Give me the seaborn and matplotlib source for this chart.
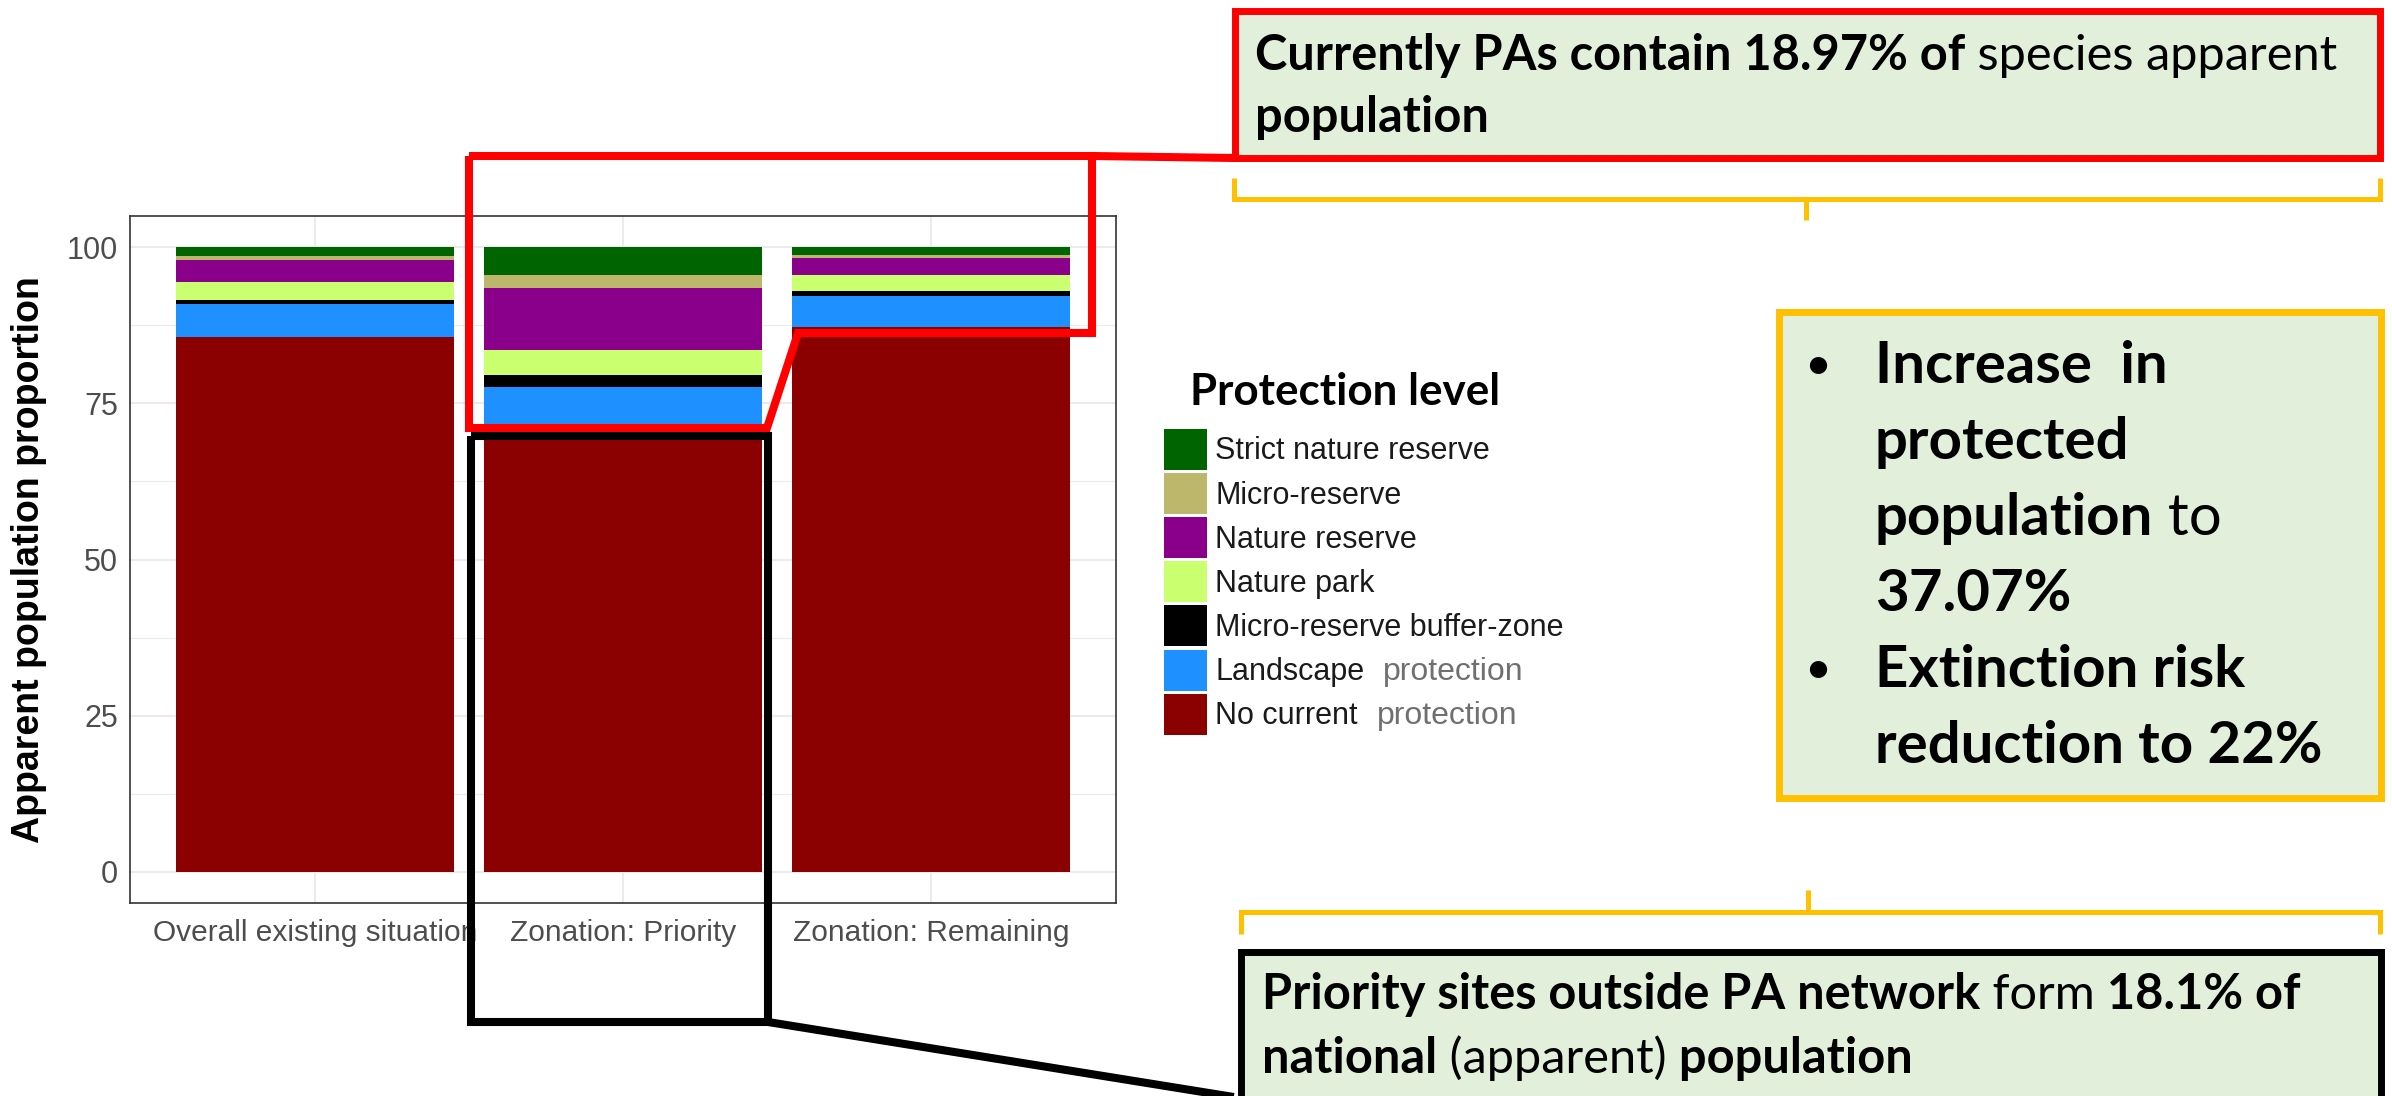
import matplotlib
matplotlib.use("Agg")
import matplotlib.pyplot as plt
import seaborn as sns
import pandas as pd
import numpy as np
from matplotlib.patches import Patch, Rectangle
from matplotlib.lines import Line2D

W, H = 2392, 1096  # output size in pixels (dpi 100)

# ---- data ----
scenarios = ["Overall existing situation", "Zonation: Priority", "Zonation: Remaining"]
levels = ["Strict nature reserve", "Micro-reserve", "Nature reserve", "Nature park",
          "Micro-reserve buffer-zone", "Landscape protection", "No current protection"]
level_colors = ["#006400", "#BDB76B", "#8B008B", "#CAFF70", "#000000", "#1E90FF", "#8B0000"]

strict_reserve = [1.4, 4.4, 1.2]
micro_reserve = [0.6, 2.2, 0.5]
nature_reserve = [3.6, 9.9, 2.7]
nature_park = [2.9, 3.9, 2.6]
buffer_zone = [0.6, 2.0, 0.8]
landscape = [5.2, 6.6, 5.0]
no_protection = [85.7, 71.0, 87.2]

y_ticks = [0, 25, 50, 75, 100]

# callout texts: (text, weight) runs per line
top_box_lines = [[("Currently PAs contain 18.97% of", "bold"), (" species apparent", "normal")],
                 [("population", "bold")]]
mid_box_lines = [[("Increase  in", "bold")], [("protected", "bold")],
                 [("population", "bold"), (" to", "normal")], [("37.07%", "bold")],
                 [("Extinction risk", "bold")], [("reduction to 22%", "bold")]]
mid_box_bullets = [0, 4]
bottom_box_lines = [[("Priority sites outside PA network", "bold"), (" form", "normal"), (" 18.1% of", "bold")],
                    [("national", "bold"), (" (apparent)", "normal"), (" population", "bold")]]

CALLOUT_FONT = "Lato"
AXIS_FONT = "Liberation Sans"
BOX_FILL = "#E2EFDA"
GOLD = "#FFC000"
RED = "#FF0000"


def fx(x):
    return x / W


def fy(y):
    return 1 - y / H


def runs_width(fig, runs, size, renderer):
    w = 0
    for txt, wt in runs:
        t = fig.text(0, 0, txt, fontsize=size, fontweight=wt, family=CALLOUT_FONT)
        w += t.get_window_extent(renderer).width
        t.remove()
    return w


def fit_size(fig, runs, target_w, renderer):
    base = 30
    return base * target_w / runs_width(fig, runs, base, renderer)


def draw_runs(fig, x, y, runs, size, renderer):
    cx = x
    for txt, wt in runs:
        t = fig.text(fx(cx), fy(y), txt, fontsize=size, fontweight=wt,
                     family=CALLOUT_FONT, va="baseline", ha="left", color="black")
        cx += t.get_window_extent(renderer).width


def fig_line(fig, pts, color, lw):
    xs = [fx(p[0]) for p in pts]
    ys = [fy(p[1]) for p in pts]
    fig.add_artist(Line2D(xs, ys, color=color, lw=lw, transform=fig.transFigure,
                          solid_joinstyle="miter", solid_capstyle="butt"))


def fig_box(fig, x0, y0, x1, y1, edge, lw):
    fig.add_artist(Rectangle((fx(x0), fy(y1)), fx(x1) - fx(x0), fy(y0) - fy(y1),
                             transform=fig.transFigure, facecolor=BOX_FILL,
                             edgecolor=edge, lw=lw, joinstyle="miter"))


# ---- long table with the cumulative top of every stacked segment ----
shares = dict(zip(levels, [strict_reserve, micro_reserve, nature_reserve, nature_park,
                           buffer_zone, landscape, no_protection]))
rows = []
cum = np.zeros(len(scenarios))
for lvl in levels[::-1]:
    cum = cum + np.array(shares[lvl])
    for s, v in zip(scenarios, cum):
        rows.append({"scenario": s, "level": lvl, "top": v})
df = pd.DataFrame(rows)

sns.set_theme(style="white")
plt.rcParams["font.family"] = [AXIS_FONT, "DejaVu Sans"]

fig = plt.figure(figsize=(W / 100, H / 100), dpi=100)
fig.patch.set_facecolor("white")
ax = fig.add_axes([fx(130), fy(903), (1116 - 130) / W, (903 - 216) / H])

# draw from the top level down so lower segments sit over the taller bars
for lvl, col in zip(levels, level_colors):
    sns.barplot(data=df[df["level"] == lvl], x="scenario", y="top", order=scenarios,
                color=col, saturation=1, width=0.9, errorbar=None, linewidth=0, ax=ax)

ax.set_xlim(-0.6, 2.6)
ax.set_ylim(-5, 105)
ax.set_yticks(y_ticks)
ax.set_yticks([12.5, 37.5, 62.5, 87.5], minor=True)
ax.set_axisbelow(True)
ax.grid(True, which="major", color="#EBEBEB", lw=1.5)
ax.grid(True, which="minor", axis="y", color="#EBEBEB", lw=0.8)
ax.tick_params(which="major", length=5.5, width=1.1, color="#333333",
               labelsize=22, labelcolor="#4D4D4D", pad=3)
ax.tick_params(axis="x", labelsize=21.5, pad=6)
ax.tick_params(which="minor", length=0)
for sp in ax.spines.values():
    sp.set_color("#333333")
    sp.set_linewidth(1.2)
ax.set_xlabel("")
ax.set_ylabel("Apparent population proportion", fontsize=27, fontweight="bold", color="black")
ax.yaxis.set_label_coords((47 - 130) / 986, 0.5)

# legend; the word "protection" is pasted in grey in the original, so it is added apart
handles = [Patch(facecolor=c, edgecolor="none", label=l.replace(" protection", ""))
           for l, c in zip(levels, level_colors)]
leg = fig.legend(handles=handles, loc="upper left", bbox_to_anchor=(fx(1164), fy(429)),
                 bbox_transform=fig.transFigure, frameon=False, fontsize=22, labelcolor="#1A1A1A",
                 handlelength=1.4, handleheight=1.69, handletextpad=0.28, labelspacing=0.1,
                 borderpad=0, borderaxespad=0)

fig.canvas.draw()
renderer = fig.canvas.get_renderer()
for lvl, t in zip(levels, leg.get_texts()):
    if lvl.endswith(" protection"):
        bb = t.get_window_extent(renderer)
        fig.text((bb.x1 + 19) / W, bb.y0 / H, "protection", fontsize=23,
                 color="#707070", va="bottom", ha="left")

title_runs = [("Protection level", "bold")]
draw_runs(fig, 1190, 405, title_runs, fit_size(fig, title_runs, 310, renderer), renderer)

# ---- callout shapes ----
# red outline round the protected part of the priority bar, joined to the top box
fig_line(fig, [(469, 156), (1092, 156), (1092, 333), (798, 333), (767, 428), (469, 428), (469, 156)], RED, 5.8)
fig_line(fig, [(1092, 156), (1235, 158)], RED, 5.8)
# black outline round the unprotected part, joined to the bottom box
fig_line(fig, [(471, 436), (768, 436), (768, 1022), (471, 1022), (471, 436)], "black", 5.8)
fig_line(fig, [(768, 1022), (1240, 1098)], "black", 5.8)

# top box
fig_box(fig, 1235, 11, 2380, 158, RED, 5.0)
s1 = fit_size(fig, top_box_lines[0], 1082, renderer)
for runs, base in zip(top_box_lines, [70, 132]):
    draw_runs(fig, 1255, base, runs, s1, renderer)

# gold brackets
fig_line(fig, [(1234, 178), (1234, 199), (2380, 199), (2380, 178)], GOLD, 3.6)
fig_line(fig, [(1806, 199), (1806, 220)], GOLD, 3.6)
fig_line(fig, [(1241, 934), (1241, 912), (2380, 912), (2380, 934)], GOLD, 3.6)
fig_line(fig, [(1808, 912), (1808, 890)], GOLD, 3.6)

# middle box
fig_box(fig, 1779, 312, 2381, 798, GOLD, 5.0)
s3 = fit_size(fig, mid_box_lines[5], 447, renderer)
for i, (runs, base) in enumerate(zip(mid_box_lines, [383, 459, 535, 611, 687, 763])):
    if i in mid_box_bullets:
        draw_runs(fig, 1804, base - 4, [("\u2022", "normal")], s3 * 0.8, renderer)
    draw_runs(fig, 1875, base, runs, s3, renderer)

# bottom box
fig_box(fig, 1241, 952, 2381, 1110, "black", 5.0)
s5 = fit_size(fig, bottom_box_lines[0], 1037, renderer)
for runs, base in zip(bottom_box_lines, [1009, 1073]):
    draw_runs(fig, 1262, base, runs, s5, renderer)

fig.savefig("out.png", dpi=100, facecolor="white")
